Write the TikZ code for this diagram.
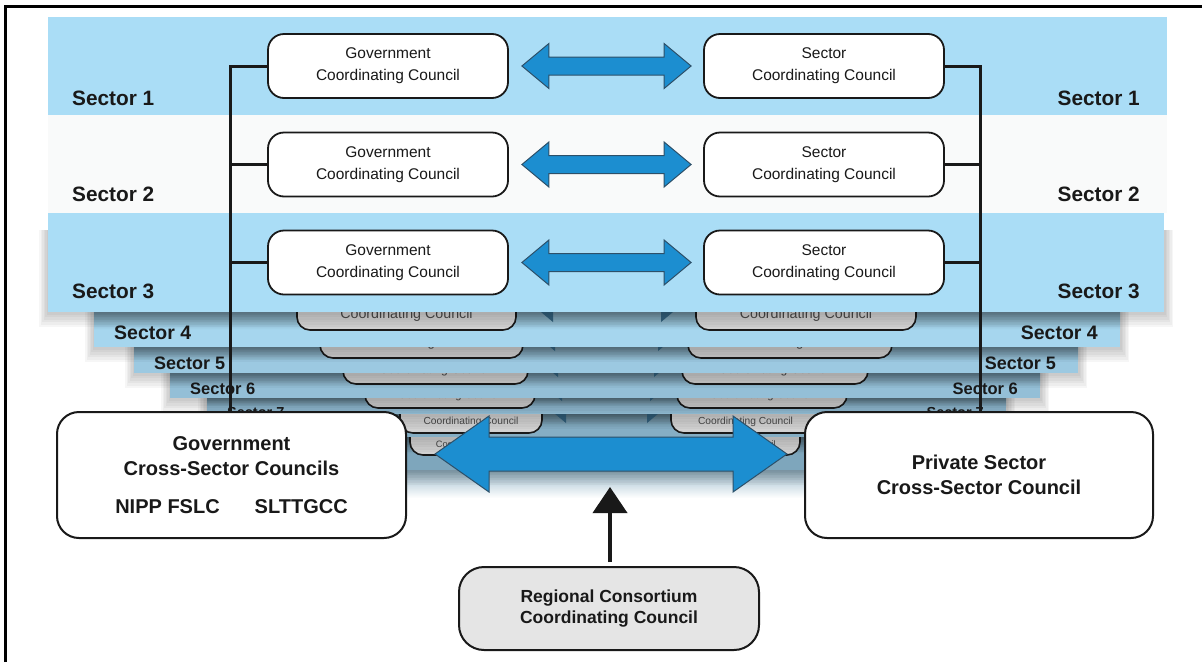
\documentclass[tikz,border=0pt]{standalone}
\usepackage{fontspec}
\setmainfont{Liberation Sans}
\usetikzlibrary{calc,arrows.meta}
\definecolor{bandA}{RGB}{170,221,246}
\definecolor{bandB}{RGB}{249,250,250}
\definecolor{band4}{RGB}{166,214,238}
\definecolor{band5}{RGB}{156,201,225}
\definecolor{band6}{RGB}{148,191,215}
\definecolor{band7}{RGB}{140,182,205}
\definecolor{band8}{RGB}{133,174,196}
\definecolor{band9}{RGB}{126,166,188}
\definecolor{arrowblue}{RGB}{28,142,208}
\definecolor{arrowedge}{RGB}{45,80,105}
\definecolor{backarrow}{RGB}{52,100,128}
\definecolor{regfill}{RGB}{229,229,229}
\definecolor{ink}{RGB}{25,25,25}

\newcommand\dblarrowshape[6]{%
  \path[#1] let \p1=(#2), \p2=(#3) in
    (\x1,\y1) -- (\x1+#6,\y1+#5) -- (\x1+#6,\y1+#4) -- (\x2-#6,\y1+#4)
    -- (\x2-#6,\y1+#5) -- (\x2,\y1) -- (\x2-#6,\y1-#5) -- (\x2-#6,\y1-#4)
    -- (\x1+#6,\y1-#4) -- (\x1+#6,\y1-#5) -- cycle;}

\tikzset{
 cbox/.style={draw=ink, line width=1.8pt, fill=white, rounded corners=16pt, minimum width=240pt, minimum height=64pt, align=center, font=\fontsize{15.5}{22}\selectfont, text=ink, inner sep=0pt},
 backbox/.style={draw=ink, line width=1.6pt, rounded corners=13pt, top color=gray!6, bottom color=gray!38, text=black!70, inner sep=0pt},
 bigbox/.style={draw=ink, line width=2pt, rounded corners=22pt, align=center, inner sep=0pt, font=\fontsize{20}{25}\bfseries\selectfont, text=ink},
 seclab/.style={font=\fontsize{20.8}{24}\bfseries\selectfont, inner sep=0pt, text=ink},
 conn/.style={draw=ink, line width=3pt},
 bluearrow/.style={fill=arrowblue, draw=arrowedge, line width=1pt},
}

\begin{document}
\begin{tikzpicture}[x=1pt,y=-1pt]
\useasboundingbox (0,0) rectangle (1202,662);
\fill[white] (0,0) rectangle (1202,662);

% bottom fade of the stack
\shade[top color=band9, bottom color=white] (255,462) rectangle (960,498);

% receding sector layers (back to front)
\foreach \kk/\tp/\bt/\lx/\rx/\ggl/\ggr/\ssl/\ssr/\bb/\sc/\hb/\lh/\rh/\ly/\lf in {
 9/437/470/270/945/410/548/665/800/455/0.60/450/570/643/0/0,
 8/414/437/240/975/400/542/671/820/433/0.66/423/566/647/0/0,
 7/398/414/207/1006/365/535/677/847/408/0.72/401/562/650/413/14.5,
 6/373/398/170/1040/343/528/682/868/384/0.78/377/558/654/389/16.5,
 5/347/373/134/1078/320/523/688/892/358/0.85/351/555/658/363/18,
 4/312/347/94/1120/297/516/696/916/330/0.92/322/553/661/333/19.5}{
  \foreach \i in {1,...,6}{
    \fill[black,opacity=0.035] ({\lx-1.5*\i},{\tp-40}) rectangle ({\rx+1.5*\i},{\bt+2.5*\i});}
  \fill[band\kk] (\lx,{\tp-60}) rectangle (\rx,\bt);
  \shade[top color=band\kk!68!black, bottom color=band\kk] (\lx,\tp) rectangle (\rx,{\tp+0.5*(\bt-\tp)});
  \pgfmathsetmacro\bh{64*\sc}
  \pgfmathsetmacro\fs{15.5*\sc}
  \pgfmathsetmacro\th{41*\sc}
  \pgfmathsetmacro\td{3*\sc}
  \pgfmathsetmacro\bwg{\ggr-\ggl}
  \pgfmathsetmacro\bws{\ssr-\ssl}
  \node[backbox, minimum width=\bwg pt, minimum height=\bh pt, text height=\th pt, text depth=\td pt,
        font=\fontsize{\fs}{\fs}\selectfont]
     (gb\kk) at ({(\ggl+\ggr)/2},{\bb-\bh/2}) {Coordinating Council};
  \node[backbox, minimum width=\bws pt, minimum height=\bh pt, text height=\th pt, text depth=\td pt,
        font=\fontsize{\fs}{\fs}\selectfont]
     (cb\kk) at ({(\ssl+\ssr)/2},{\bb-\bh/2}) {Coordinating Council};
  \pgfmathsetmacro\hh{22.5*\sc}
  \pgfmathsetmacro\hl{27*\sc}
  \pgfmathsetmacro\sh{9*\sc}
  \pgfmathsetmacro\cy{\hb-\hh}
  \coordinate (bal\kk) at ({\lh-\hl},\cy);
  \coordinate (bar\kk) at ({\rh+\hl},\cy);
  \dblarrowshape{fill=backarrow}{bal\kk}{bar\kk}{\sh pt}{\hh pt}{\hl pt}
  \ifnum\kk<8
    \node[anchor=west, inner sep=0pt, text=ink, font=\fontsize{\lf}{\lf}\bfseries\selectfont] (sl\kk) at ({\lx+20},\ly) {Sector \kk};
    \node[anchor=east, inner sep=0pt, text=ink, font=\fontsize{\lf}{\lf}\bfseries\selectfont] (sr\kk) at ({\rx-22},\ly) {Sector \kk};
  \fi
}

% sector 3 band with soft shadow
\foreach \i in {1,...,6}{
  \fill[black,opacity=0.035] ({48-1.5*\i},230) rectangle ({1164+1.5*\i},{312+2.5*\i});}
\fill[bandA] (48,213) rectangle (1164,312);
% sector 2 and 1 bands
\fill[bandB] (48,115) rectangle (1167,213);
\fill[bandA] (48,17) rectangle (1167,115);

% sector labels
\node[seclab, anchor=west] (sl1) at (72,98) {Sector 1};
\node[seclab, anchor=east] (sr1) at (1140,98) {Sector 1};
\node[seclab, anchor=west] (sl2) at (72,194) {Sector 2};
\node[seclab, anchor=east] (sr2) at (1140,194) {Sector 2};
\node[seclab, anchor=west] (sl3) at (72,291) {Sector 3};
\node[seclab, anchor=east] (sr3) at (1140,291) {Sector 3};

% council boxes
\node[cbox] (g1) at (388,66) {Government\\Coordinating Council};
\node[cbox] (c1) at (824,66) {Sector\\Coordinating Council};
\node[cbox] (g2) at (388,164.5) {Government\\Coordinating Council};
\node[cbox] (c2) at (824,164.5) {Sector\\Coordinating Council};
\node[cbox] (g3) at (388,262.5) {Government\\Coordinating Council};
\node[cbox] (c3) at (824,262.5) {Sector\\Coordinating Council};

% blue double arrows
\coordinate (alA) at ($(g1.east)+(13,0)$);
\coordinate (arA) at ($(c1.west)+(-12,0)$);
\coordinate (alB) at ($(g2.east)+(13,0)$);
\coordinate (arB) at ($(c2.west)+(-12,0)$);
\coordinate (alC) at ($(g3.east)+(13,0)$);
\coordinate (arC) at ($(c3.west)+(-12,0)$);
\dblarrowshape{bluearrow}{alA}{arA}{9pt}{22.5pt}{27pt}
\dblarrowshape{bluearrow}{alB}{arB}{9pt}{22.5pt}{27pt}
\dblarrowshape{bluearrow}{alC}{arC}{9pt}{22.5pt}{27pt}

% connectors to the vertical lines
\coordinate (lv) at (230,0);
\coordinate (rv) at (980,0);
\coordinate (lvb) at (230,430);
\coordinate (rvb) at (980,430);
\draw[conn] (g1.west) -- (g1.west -| lv) -- (lvb);
\draw[conn] (g2.west) -- (g2.west -| lv);
\draw[conn] (g3.west) -- (g3.west -| lv);
\draw[conn] (c1.east) -- (c1.east -| rv) -- (rvb);
\draw[conn] (c2.east) -- (c2.east -| rv);
\draw[conn] (c3.east) -- (c3.east -| rv);

% cross-sector councils
\node[bigbox, fill=white, minimum width=349pt, minimum height=126pt] (gx) at (231.5,475)
  {Government\\Cross-Sector Councils\\[13pt]NIPP FSLC\hspace{35pt}SLTTGCC};
\node[bigbox, fill=white, minimum width=348pt, minimum height=126pt] (px) at (979,475)
  {Private Sector\\Cross-Sector Council};

% big double arrow
\coordinate (bal) at ($(gx.east)+(28,-21)$);
\coordinate (bar) at ($(px.west)+(-17,-21)$);
\dblarrowshape{bluearrow}{bal}{bar}{17pt}{38pt}{54pt}

% regional consortium
\node[bigbox, fill=regfill, rounded corners=25pt, minimum width=300pt, minimum height=83pt,
      font=\fontsize{17.5}{21}\bfseries\selectfont] (rc) at (609,608.5)
  {Regional Consortium\\Coordinating Council};
\coordinate (uat) at (610,487);
\coordinate (ubase) at ($(rc.north)+(1,-4)$);
\draw[draw=ink, line width=4pt, -{Triangle[length=26pt,width=34pt]}] (ubase) -- (uat);

% frame
\draw[line width=3pt, line join=miter] (5.5,662) -- (5.5,6) -- (1202,6);
\end{tikzpicture}
\end{document}
